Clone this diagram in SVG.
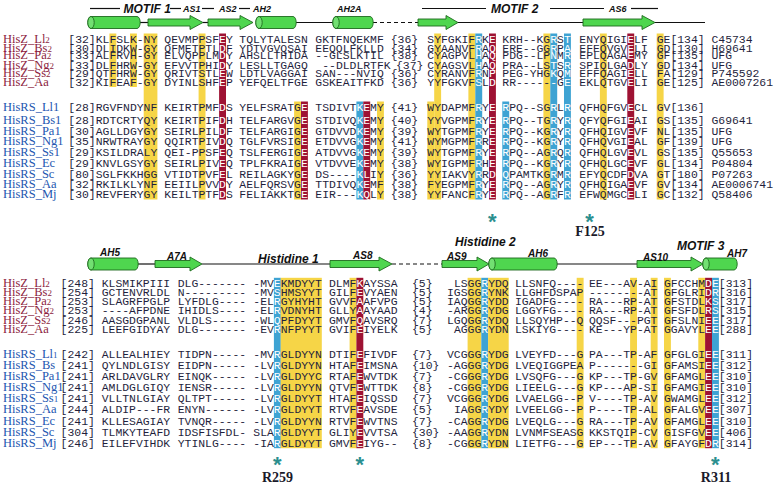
<svg xmlns="http://www.w3.org/2000/svg" width="774" height="488" viewBox="0 0 774 488">
<style>
.s{font-family:"Liberation Mono","Courier New",monospace;font-size:11.42px;fill:#1f1f3d}
.w{fill:#fff}
.lz{font-family:"Liberation Serif","Times New Roman",serif;font-size:12.5px;fill:#8c1d40}
.lr{font-family:"Liberation Serif","Times New Roman",serif;font-size:12.5px;fill:#2356b0}
.sb{font-size:9px}
.y{fill:#f6d547}
.b{fill:#3ea3d3}
.r{fill:#9e1233}
.hd{font-family:"Liberation Sans",Arial,sans-serif;font-weight:bold;font-style:italic;fill:#111}
.m{font-size:12px}
.a{font-size:9px}
.a2{font-size:10px}
.st{font-family:"Liberation Sans",Arial,sans-serif;font-weight:bold;font-size:22px;fill:#2b8f8f;text-anchor:middle}
.res{font-family:"Liberation Serif","Times New Roman",serif;font-weight:bold;font-size:14px;fill:#1a1a2a;text-anchor:middle}
.cyl{fill:#4fd64f;stroke:#1e6a1e;stroke-width:0.9}
.cap{fill:#72e072;stroke:#1e6a1e;stroke-width:0.9}
.ln{stroke:#111;stroke-width:1.2;fill:none}
.dl{stroke:#111;stroke-width:1.2;fill:none;stroke-dasharray:4 3}
</style>
<rect width="774" height="488" fill="#fff"/>

<g id="connectors">
<line class="ln" x1="90" y1="8.5" x2="120" y2="8.5"/>
<line class="ln" x1="170" y1="8.5" x2="181" y2="8.5"/>
<line class="ln" x1="202" y1="8.5" x2="214" y2="8.5"/>
<line class="ln" x1="239" y1="8.5" x2="250" y2="8.5"/>
<line class="ln" x1="422" y1="8.5" x2="486" y2="8.5"/>
<line class="ln" x1="550" y1="8.5" x2="604" y2="8.5"/>
<line class="ln" x1="631" y1="8.5" x2="658" y2="8.5"/>
<line class="ln" x1="140" y1="22.5" x2="148" y2="22.5"/>
<line class="ln" x1="203" y1="22.5" x2="208" y2="22.5"/>
<line class="ln" x1="296" y1="22.5" x2="333" y2="22.5"/>
<line class="dl" x1="373" y1="22.5" x2="418" y2="22.5"/>
<line class="ln" x1="458" y1="22.5" x2="583" y2="22.5"/>
<line class="ln" x1="655" y1="22.5" x2="705" y2="22.5"/>
<line class="ln" x1="138" y1="264" x2="155" y2="264"/>
<line class="ln" x1="202" y1="264" x2="330" y2="264"/>
<line class="dl" x1="392" y1="264" x2="442" y2="264"/>
<line class="ln" x1="557" y1="264" x2="637" y2="264"/>
</g>

<g id="structure">
<path class="cyl" d="M91,16.5H137A3.2,6 0 0 1 137,28.5H91A3.2,6 0 0 1 91,16.5Z"/><ellipse class="cap" cx="91" cy="22.5" rx="3.2" ry="6"/>
<polygon class="cyl" points="148,19 190,19 190,15.5 203,22.5 190,29.5 190,26 148,26"/>
<polygon class="cyl" points="208,19 240,19 240,15.5 253,22.5 240,29.5 240,26 208,26"/>
<path class="cyl" d="M259,16.5H293A3.2,6 0 0 1 293,28.5H259A3.2,6 0 0 1 259,16.5Z"/><ellipse class="cap" cx="259" cy="22.5" rx="3.2" ry="6"/>
<path class="cyl" d="M336,16.5H370A3.2,6 0 0 1 370,28.5H336A3.2,6 0 0 1 336,16.5Z"/><ellipse class="cap" cx="336" cy="22.5" rx="3.2" ry="6"/>
<polygon class="cyl" points="418,19 446,19 446,15.5 458,22.5 446,29.5 446,26 418,26"/>
<polygon class="cyl" points="583,19 642,19 642,15.5 655,22.5 642,29.5 642,26 583,26"/>
<path class="cyl" d="M91,258H135A3.2,6 0 0 1 135,270H91A3.2,6 0 0 1 91,258Z"/><ellipse class="cap" cx="91" cy="264" rx="3.2" ry="6"/>
<polygon class="cyl" points="155,260.5 190,260.5 190,257 202,264 190,271 190,267.5 155,267.5"/>
<polygon class="cyl" points="330,260.5 379,260.5 379,257 392,264 379,271 379,267.5 330,267.5"/>
<polygon class="cyl" points="442,260.5 477,260.5 477,257 489,264 477,271 477,267.5 442,267.5"/>
<path class="cyl" d="M492,258H554A3.2,6 0 0 1 554,270H492A3.2,6 0 0 1 492,258Z"/><ellipse class="cap" cx="492" cy="264" rx="3.2" ry="6"/>
<polygon class="cyl" points="637,260.5 691,260.5 691,257 703,264 691,271 691,267.5 637,267.5"/>
<path class="cyl" d="M706,258H734A3.2,6 0 0 1 734,270H706A3.2,6 0 0 1 706,258Z"/><ellipse class="cap" cx="706" cy="264" rx="3.2" ry="6"/>
</g>

<g id="headers" class="hd">
<text class="m" x="123.5" y="12.8">MOTIF 1</text>
<text class="a" x="183" y="12">AS1</text>
<text class="a" x="219" y="12">AS2</text>
<text class="a" x="253" y="12">AH2</text>
<text class="a" x="337" y="12">AH2A</text>
<text class="m" x="491" y="12.8">MOTIF 2</text>
<text class="a" x="609" y="12">AS6</text>
<text class="a2" x="100" y="255.5">AH5</text>
<text class="a2" x="167" y="259.5">A7A</text>
<text class="m" x="258" y="262.5">Histidine 1</text>
<text class="a2" x="353" y="259">AS8</text>
<text class="a2" x="447" y="260">AS9</text>
<text class="m" x="455" y="245.5">Histidine 2</text>
<text class="a2" x="528" y="256.5">AH6</text>
<text class="a2" x="643" y="260.5">AS10</text>
<text class="m" x="677" y="249.5">MOTIF 3</text>
<text class="a2" x="727" y="256.5">AH7</text>
</g>

<g id="highlights">
<rect class="y" x="109.4" y="33.5" width="6.9" height="53.5"/>
<rect class="y" x="130" y="33.5" width="6.9" height="53.5"/>
<rect class="y" x="143.7" y="33.5" width="13.7" height="166"/>
<rect class="y" x="198.6" y="33.5" width="6.9" height="166"/>
<rect class="r" x="219.1" y="33.5" width="6.9" height="166"/>
<rect class="y" x="294.1" y="101.5" width="6.9" height="98"/>
<rect class="r" x="301" y="101.5" width="6.9" height="98"/>
<rect class="b" x="356.4" y="101.5" width="6.9" height="98"/>
<rect class="r" x="363.3" y="101.5" width="6.9" height="98"/>
<rect class="y" x="377" y="101.5" width="6.9" height="98"/>
<rect class="y" x="427.3" y="101.5" width="6.9" height="98"/>
<rect class="y" x="434.2" y="33.5" width="6.9" height="166"/>
<rect class="y" x="468.4" y="33.5" width="6.9" height="166"/>
<rect class="b" x="475.3" y="33.5" width="6.9" height="166"/>
<rect class="r" x="489" y="33.5" width="6.9" height="166"/>
<rect class="b" x="502.3" y="101.5" width="6.9" height="98"/>
<rect class="y" x="543.4" y="33.5" width="6.9" height="166"/>
<rect class="b" x="550.3" y="33.5" width="6.9" height="166"/>
<rect class="b" x="564" y="33.5" width="6.9" height="166"/>
<rect class="y" x="599.9" y="33.5" width="6.9" height="166"/>
<rect class="r" x="627.3" y="33.5" width="6.9" height="166"/>
<rect class="y" x="656.7" y="33.5" width="6.9" height="166"/>

<rect class="b" x="273.9" y="277.8" width="6.9" height="170.4"/>
<rect class="y" x="280.7" y="277.8" width="41.1" height="170.4"/>
<rect class="y" x="349.6" y="277.8" width="6.9" height="170.4"/>
<rect class="r" x="356.4" y="277.8" width="6.9" height="170.4"/>
<rect class="y" x="467.6" y="277.8" width="13.7" height="170.4"/>
<rect class="b" x="481.3" y="277.8" width="6.9" height="170.4"/>
<rect class="y" x="488.1" y="277.8" width="20.6" height="170.4"/>
<rect class="y" x="576.7" y="277.8" width="6.9" height="170.4"/>
<rect class="y" x="630.1" y="277.8" width="6.9" height="170.4"/>
<rect class="y" x="650.7" y="277.8" width="6.9" height="170.4"/>
<rect class="y" x="664" y="277.8" width="6.9" height="170.4"/>
<rect class="y" x="698.3" y="277.8" width="6.9" height="170.4"/>
<rect class="r" x="705.1" y="277.8" width="6.9" height="170.4"/>
<rect class="b" x="712" y="277.8" width="6.9" height="170.4"/>
</g>

<g id="upper-labels">
<text class="lz" x="3" y="43">HisZ_Ll<tspan class="sb">2</tspan></text>
<text class="lz" x="3" y="51.5">HisZ_Bs<tspan class="sb">2</tspan></text>
<text class="lz" x="3" y="59">HisZ_Pa<tspan class="sb">2</tspan></text>
<text class="lz" x="3" y="68.5">HisZ_Ng<tspan class="sb">2</tspan></text>
<text class="lz" x="3" y="77">HisZ_Ss<tspan class="sb">2</tspan></text>
<text class="lz" x="3" y="86">HisZ_Aa</text>
<text class="lr" x="3" y="111">HisRS_Ll1</text>
<text class="lr" x="3" y="124">HisRS_Bs1</text>
<text class="lr" x="3" y="134.7">HisRS_Pa1</text>
<text class="lr" x="3" y="145.3">HisRS_Ng1</text>
<text class="lr" x="3" y="156">HisRS_Ss1</text>
<text class="lr" x="3" y="167">HisRS_Ec</text>
<text class="lr" x="3" y="177.5">HisRS_Sc</text>
<text class="lr" x="3" y="188">HisRS_Aa</text>
<text class="lr" x="3" y="198">HisRS_Mj</text>
</g>

<g id="upper-seqs" class="s">
<text y="43"><tspan x="68.3">[32]</tspan><tspan x="95.7">KLFSLK-NY</tspan><tspan x="164.3">QEVMPPSF</tspan><tspan class="w">E</tspan><tspan>Y</tspan><tspan x="239.3">TQLYTALESN</tspan><tspan x="315.3">GKTFNQEKMF</tspan><tspan x="390.7">{36}</tspan><tspan x="427.3">SYFGKIF</tspan><tspan class="w">R</tspan><tspan>K</tspan><tspan class="w">E</tspan><tspan x="502.3">KRH--KG</tspan><tspan class="w">R</tspan><tspan>S</tspan><tspan class="w">T</tspan><tspan x="579.3">ENYQIGI</tspan><tspan class="w">E</tspan><tspan>LF</tspan><tspan x="656.7">GE[134] C45734</tspan></text>
<text y="51.5"><tspan x="68.3">[30]</tspan><tspan x="95.7">DLIDKW-GY</tspan><tspan x="164.3">QFMETPTL</tspan><tspan class="w">D</tspan><tspan>F</tspan><tspan x="239.3">YDTVGVQSAI</tspan><tspan x="315.3">EEQQLFKLLD</tspan><tspan x="390.7">{34}</tspan><tspan x="427.3">GYAANVF</tspan><tspan class="w">R</tspan><tspan>A</tspan><tspan class="w">Q</tspan><tspan x="502.3">ERE--GG</tspan><tspan class="w">R</tspan><tspan>P</tspan><tspan class="w">A</tspan><tspan x="579.3">EFEQVGV</tspan><tspan class="w">E</tspan><tspan>LI</tspan><tspan x="656.7">GD[130] H69641</tspan></text>
<text y="59"><tspan x="68.3">[33]</tspan><tspan x="95.7">ALFRVH-GY</tspan><tspan x="164.3">ELVQPPLM</tspan><tspan class="w">D</tspan><tspan>Y</tspan><tspan x="239.3">AHSLLTHIDA</tspan><tspan x="315.3">--GLSLKTIL</tspan><tspan x="390.7">{38}</tspan><tspan x="427.3">CYAGPVL</tspan><tspan class="w">H</tspan><tspan>A</tspan><tspan class="w">Q</tspan><tspan x="502.3">PDG--LP</tspan><tspan class="w">N</tspan><tspan>M</tspan><tspan class="w">R</tspan><tspan x="579.3">EPLQAGA</tspan><tspan class="w">E</tspan><tspan>MY</tspan><tspan x="656.7">GF[135] UFG</tspan></text>
<text y="68.5"><tspan x="68.3">[33]</tspan><tspan x="95.7">DLFHRW-GY</tspan><tspan x="164.3">EFVVTPHI</tspan><tspan class="w">D</tspan><tspan>Y</tspan><tspan x="239.3">LESLLTGAGQ</tspan><tspan x="322.2">--DLDLRTFK</tspan><tspan x="396">{37}</tspan><tspan x="427.3">CYAGSVL</tspan><tspan class="w">H</tspan><tspan>A</tspan><tspan class="w">Q</tspan><tspan x="502.3">PRA--LS</tspan><tspan class="w">T</tspan><tspan>S</tspan><tspan class="w">R</tspan><tspan x="579.3">SPIQLGA</tspan><tspan class="w">D</tspan><tspan>LY</tspan><tspan x="656.7">GD[134] UFG</tspan></text>
<text y="77"><tspan x="68.3">[29]</tspan><tspan x="95.7">QTFHRW-GY</tspan><tspan x="164.3">QRIVTSTL</tspan><tspan class="w">E</tspan><tspan>W</tspan><tspan x="239.3">LDTLVAGGAI</tspan><tspan x="315.3">SAN---NVIQ</tspan><tspan x="390.7">{36}</tspan><tspan x="427.3">CYRANVF</tspan><tspan class="w">R</tspan><tspan>N</tspan><tspan class="w">P</tspan><tspan x="502.3">PEG-YHG</tspan><tspan class="w">K</tspan><tspan>Q</tspan><tspan class="w">M</tspan><tspan x="579.3">EFFQAGI</tspan><tspan class="w">E</tspan><tspan>LL</tspan><tspan x="656.7">FA[129] P745592</tspan></text>
<text y="86"><tspan x="68.3">[32]</tspan><tspan x="95.7">KIFEAF-GY</tspan><tspan x="164.3">DYINLSHF</tspan><tspan class="w">E</tspan><tspan>P</tspan><tspan x="239.3">YEFQELTFGE</tspan><tspan x="315.3">GSKEAITFKD</tspan><tspan x="390.7">{36}</tspan><tspan x="427.3">YYFGKVF</tspan><tspan class="w">S</tspan><tspan>L</tspan><tspan class="w">D</tspan><tspan x="502.3">RR-----</tspan><tspan class="w">-</tspan><tspan>G</tspan><tspan class="w">E</tspan><tspan x="579.3">EKLQTGV</tspan><tspan class="w">E</tspan><tspan>LI</tspan><tspan x="656.7">GE[125] AE0007261</tspan></text>
<text y="111"><tspan x="68.3">[28]</tspan><tspan x="95.7">RGVFNDYNF</tspan><tspan x="164.3">KEIRTPMF</tspan><tspan class="w">D</tspan><tspan>S</tspan><tspan x="239.3">YELFSRATG</tspan><tspan class="w">E</tspan><tspan x="315.3">TSDIVT</tspan><tspan class="w">KE</tspan><tspan>MY</tspan><tspan x="390.7">{41}</tspan><tspan x="427.3">WYDAPMF</tspan><tspan class="w">R</tspan><tspan>Y</tspan><tspan class="w">E</tspan><tspan x="502.3" class="w">R</tspan><tspan>PQ--SG</tspan><tspan class="w">R</tspan><tspan>L</tspan><tspan class="w">R</tspan><tspan x="579.3">QFHQFGV</tspan><tspan class="w">E</tspan><tspan>CL</tspan><tspan x="656.7">GV[136]</tspan></text>
<text y="124"><tspan x="68.3">[28]</tspan><tspan x="95.7">RDTCRTYQY</tspan><tspan x="164.3">KEIRTPIF</tspan><tspan class="w">D</tspan><tspan>H</tspan><tspan x="239.3">TELFARGVG</tspan><tspan class="w">E</tspan><tspan x="315.3">STDIVQ</tspan><tspan class="w">KE</tspan><tspan>MY</tspan><tspan x="390.7">{40}</tspan><tspan x="427.3">YYVGPMF</tspan><tspan class="w">R</tspan><tspan>Y</tspan><tspan class="w">E</tspan><tspan x="502.3" class="w">R</tspan><tspan>PQ--TG</tspan><tspan class="w">R</tspan><tspan>Y</tspan><tspan class="w">R</tspan><tspan x="579.3">QFYQFGI</tspan><tspan class="w">E</tspan><tspan>AI</tspan><tspan x="656.7">GS[135] G69641</tspan></text>
<text y="134.7"><tspan x="68.3">[30]</tspan><tspan x="95.7">AGLLDGYGY</tspan><tspan x="164.3">SEIRLPIL</tspan><tspan class="w">D</tspan><tspan>F</tspan><tspan x="239.3">TELFARGIG</tspan><tspan class="w">E</tspan><tspan x="315.3">GTDVVD</tspan><tspan class="w">KE</tspan><tspan>MY</tspan><tspan x="390.7">{39}</tspan><tspan x="427.3">WYTGPMF</tspan><tspan class="w">R</tspan><tspan>Y</tspan><tspan class="w">E</tspan><tspan x="502.3" class="w">R</tspan><tspan>PQ--KG</tspan><tspan class="w">R</tspan><tspan>Y</tspan><tspan class="w">R</tspan><tspan x="579.3">QFHQIGV</tspan><tspan class="w">E</tspan><tspan>VF</tspan><tspan x="656.7">NL[135] UFG</tspan></text>
<text y="145.3"><tspan x="68.3">[35]</tspan><tspan x="95.7">NRWTRAYGY</tspan><tspan x="164.3">QQIRTPIV</tspan><tspan class="w">D</tspan><tspan>Q</tspan><tspan x="239.3">TGLFVRSIG</tspan><tspan class="w">E</tspan><tspan x="315.3">ETDVVG</tspan><tspan class="w">KE</tspan><tspan>MY</tspan><tspan x="390.7">{41}</tspan><tspan x="427.3">WYMGPMF</tspan><tspan class="w">R</tspan><tspan>R</tspan><tspan class="w">E</tspan><tspan x="502.3" class="w">R</tspan><tspan>PQ--KG</tspan><tspan class="w">R</tspan><tspan>Y</tspan><tspan class="w">R</tspan><tspan x="579.3">QFHQVGI</tspan><tspan class="w">E</tspan><tspan>AL</tspan><tspan x="656.7">GF[139] UFG</tspan></text>
<text y="156"><tspan x="68.3">[29]</tspan><tspan x="95.7">KSILDRALY</tspan><tspan x="164.3">QEI-PPSF</tspan><tspan class="w">E</tspan><tspan>Q</tspan><tspan x="239.3">TSLFERGIG</tspan><tspan class="w">E</tspan><tspan x="315.3">ATDVVG</tspan><tspan class="w">KE</tspan><tspan>MY</tspan><tspan x="390.7">{39}</tspan><tspan x="427.3">WYTGPMF</tspan><tspan class="w">R</tspan><tspan>Y</tspan><tspan class="w">E</tspan><tspan x="502.3" class="w">R</tspan><tspan>PQ--AG</tspan><tspan class="w">R</tspan><tspan>Q</tspan><tspan class="w">R</tspan><tspan x="579.3">QFHQLGV</tspan><tspan class="w">E</tspan><tspan>VL</tspan><tspan x="656.7">GS[135] Q55653</tspan></text>
<text y="167"><tspan x="68.3">[29]</tspan><tspan x="95.7">KNVLGSYGY</tspan><tspan x="164.3">SEIRLPIV</tspan><tspan class="w">E</tspan><tspan>Q</tspan><tspan x="239.3">TPLFKRAIG</tspan><tspan class="w">E</tspan><tspan x="315.3">VTDVVE</tspan><tspan class="w">KE</tspan><tspan>MY</tspan><tspan x="390.7">{38}</tspan><tspan x="427.3">WYIGPMF</tspan><tspan class="w">R</tspan><tspan>H</tspan><tspan class="w">E</tspan><tspan x="502.3" class="w">R</tspan><tspan>PQ--KG</tspan><tspan class="w">R</tspan><tspan>Y</tspan><tspan class="w">R</tspan><tspan x="579.3">QFHQLGC</tspan><tspan class="w">E</tspan><tspan>VF</tspan><tspan x="656.7">GL[134] P04804</tspan></text>
<text y="177.5"><tspan x="68.3">[80]</tspan><tspan x="95.7">SGLFKKHGG</tspan><tspan x="164.3">VTIDTPVF</tspan><tspan class="w">E</tspan><tspan>L</tspan><tspan x="239.3">REILAGKYG</tspan><tspan class="w">E</tspan><tspan x="315.3">DS----</tspan><tspan class="w">KL</tspan><tspan>IY</tspan><tspan x="390.7">{36}</tspan><tspan x="427.3">YYIAKVY</tspan><tspan class="w">R</tspan><tspan>R</tspan><tspan class="w">D</tspan><tspan x="502.3" class="w">Q</tspan><tspan>PAMTKG</tspan><tspan class="w">R</tspan><tspan>M</tspan><tspan class="w">R</tspan><tspan x="579.3">EFYQCDF</tspan><tspan class="w">D</tspan><tspan>VA</tspan><tspan x="656.7">GT[180] P07263</tspan></text>
<text y="188"><tspan x="68.3">[32]</tspan><tspan x="95.7">RKILKLYNF</tspan><tspan x="164.3">EEIILPVV</tspan><tspan class="w">D</tspan><tspan>Y</tspan><tspan x="239.3">AELFQRSVG</tspan><tspan class="w">E</tspan><tspan x="315.3">TTDIVQ</tspan><tspan class="w">KE</tspan><tspan>MF</tspan><tspan x="390.7">{38}</tspan><tspan x="427.3">FYEGPMF</tspan><tspan class="w">R</tspan><tspan>Y</tspan><tspan class="w">E</tspan><tspan x="502.3" class="w">R</tspan><tspan>PQ--AG</tspan><tspan class="w">R</tspan><tspan>Y</tspan><tspan class="w">R</tspan><tspan x="579.3">QFHQIGA</tspan><tspan class="w">E</tspan><tspan>VF</tspan><tspan x="656.7">GV[134] AE0006741</tspan></text>
<text y="198"><tspan x="68.3">[30]</tspan><tspan x="95.7">REVFERYGY</tspan><tspan x="164.3">KEILTPTF</tspan><tspan class="w">D</tspan><tspan>S</tspan><tspan x="239.3">FELIAKKTG</tspan><tspan class="w">E</tspan><tspan x="315.3">EIR---</tspan><tspan class="w">KQ</tspan><tspan>LY</tspan><tspan x="390.7">{38}</tspan><tspan x="427.3">YYFANCF</tspan><tspan class="w">R</tspan><tspan>Y</tspan><tspan class="w">E</tspan><tspan x="502.3" class="w">R</tspan><tspan>PQ--AG</tspan><tspan class="w">R</tspan><tspan>F</tspan><tspan class="w">R</tspan><tspan x="579.3">EFWQMGC</tspan><tspan class="w">E</tspan><tspan>LI</tspan><tspan x="656.7">GC[132] Q58406</tspan></text>
</g>

<g id="upper-marks">
<text class="st" x="492.4" y="228.6">*</text>
<text class="st" x="589.6" y="228.6">*</text>
<text class="res" x="590" y="235.5">F125</text>
</g>

<g id="lower-labels">
<text class="lz" x="3" y="287.3">HisZ_Ll<tspan class="sb">2</tspan></text>
<text class="lz" x="3" y="296.3">HisZ_Bs<tspan class="sb">2</tspan></text>
<text class="lz" x="3" y="305">HisZ_Pa<tspan class="sb">2</tspan></text>
<text class="lz" x="3" y="314">HisZ_Ng<tspan class="sb">2</tspan></text>
<text class="lz" x="3" y="324">HisZ_Ss<tspan class="sb">2</tspan></text>
<text class="lz" x="3" y="333.3">HisZ_Aa</text>
<text class="lr" x="3" y="357.5">HisRS_Ll<tspan class="sb">1</tspan></text>
<text class="lr" x="3" y="369">HisRS_Bs</text>
<text class="lr" x="3" y="380.1">HisRS_Pa1</text>
<text class="lr" x="3" y="391.2">HisRS_Ng1</text>
<text class="lr" x="3" y="402.3">HisRS_Ss<tspan class="sb">1</tspan></text>
<text class="lr" x="3" y="413.4">HisRS_Aa</text>
<text class="lr" x="3" y="424.5">HisRS_Ec</text>
<text class="lr" x="3" y="435.6">HisRS_Sc</text>
<text class="lr" x="3" y="446.7">HisRS_Mj</text>
</g>

<g id="lower-seqs" class="s">
<text y="287.3"><tspan x="60.6">[248]</tspan><tspan x="101.7">KLSMIKPIII</tspan><tspan x="177.7">DLG-------</tspan><tspan x="253.3">-MV</tspan><tspan class="w">E</tspan><tspan>KMDYYT</tspan><tspan x="329">DLMF</tspan><tspan class="w">K</tspan><tspan>AYSSA</tspan><tspan x="412">{5}</tspan><tspan x="453.9">LSGG</tspan><tspan class="w">R</tspan><tspan>YDQ</tspan><tspan x="515">LLSNFQ----</tspan><tspan x="589">EE---AV-AI</tspan><tspan x="664">GFCCHM</tspan><tspan class="w">DE</tspan><tspan>[313]</tspan></text>
<text y="296.3"><tspan x="60.6">[254]</tspan><tspan x="101.7">GCTENVRLDL</tspan><tspan x="177.7">N---------</tspan><tspan x="253.3">-MV</tspan><tspan class="w">S</tspan><tspan>HMSYYT</tspan><tspan x="329">GILF</tspan><tspan class="w">E</tspan><tspan>VYAEN</tspan><tspan x="412">{5}</tspan><tspan x="447">IGSGG</tspan><tspan class="w">R</tspan><tspan>YNK</tspan><tspan x="515">LLGHFDSPAP</tspan><tspan x="589">--------AT</tspan><tspan x="664">GFGLRI</tspan><tspan class="w">DR</tspan><tspan>[316]</tspan></text>
<text y="305"><tspan x="60.6">[253]</tspan><tspan x="101.7">SLAGRFPGLP</tspan><tspan x="177.7">LYFDLG----</tspan><tspan x="253.3">-EL</tspan><tspan class="w">R</tspan><tspan>GYHYHT</tspan><tspan x="329">GVVF</tspan><tspan class="w">A</tspan><tspan>AFVPG</tspan><tspan x="412">{5}</tspan><tspan x="447">IAQGG</tspan><tspan class="w">R</tspan><tspan>YDD</tspan><tspan x="515">IGADFG----</tspan><tspan x="589">RA---RP-AT</tspan><tspan x="664">GFSTDL</tspan><tspan class="w">KS</tspan><tspan>[317]</tspan></text>
<text y="314"><tspan x="60.6">[253]</tspan><tspan x="101.7">----AFPDNE</tspan><tspan x="177.7">IHIDLS----</tspan><tspan x="253.3">-EL</tspan><tspan class="w">R</tspan><tspan>VDNYHT</tspan><tspan x="329">GLLY</tspan><tspan class="w">A</tspan><tspan>AYAAD</tspan><tspan x="412">{4}</tspan><tspan x="447">-ARGG</tspan><tspan class="w">R</tspan><tspan>YDG</tspan><tspan x="515">LGGYFG----</tspan><tspan x="589">RA---RP-AT</tspan><tspan x="664">GFSFDL</tspan><tspan class="w">RS</tspan><tspan>[315]</tspan></text>
<text y="324"><tspan x="60.6">[246]</tspan><tspan x="101.7">AASGDGPANL</tspan><tspan x="177.7">VLDLS-----</tspan><tspan x="253.3">-WL</tspan><tspan class="w">Q</tspan><tspan>PFDYYT</tspan><tspan x="329">GMVF</tspan><tspan class="w">Q</tspan><tspan>AVSRQ</tspan><tspan x="412">{7}</tspan><tspan x="447">LGQGG</tspan><tspan class="w">R</tspan><tspan>YDQ</tspan><tspan x="515">LLSQYHP--Q</tspan><tspan x="589">QQSF---PGT</tspan><tspan x="664">GFSLNI</tspan><tspan class="w">EE</tspan><tspan>[317]</tspan></text>
<text y="333.3"><tspan x="60.6">[225]</tspan><tspan x="101.7">LEEFGIDYAY</tspan><tspan x="177.7">DLG-------</tspan><tspan x="253.3">-EV</tspan><tspan class="w">R</tspan><tspan>NFPYYT</tspan><tspan x="329">GVIF</tspan><tspan class="w">E</tspan><tspan>IYELK</tspan><tspan x="412">{5}</tspan><tspan x="453.9">AGGG</tspan><tspan class="w">R</tspan><tspan>YDN</tspan><tspan x="515">LSKIYG----</tspan><tspan x="589">KE---YP-AT</tspan><tspan x="664">GGAVYL</tspan><tspan class="w">EE</tspan><tspan>[288]</tspan></text>
<text y="357.5"><tspan x="60.6">[242]</tspan><tspan x="101.7">ALLEALHIEY</tspan><tspan x="177.7">TIDPN-----</tspan><tspan x="253.3">-MV</tspan><tspan class="w">R</tspan><tspan>GLDYYN</tspan><tspan x="329">DTIF</tspan><tspan class="w">E</tspan><tspan>FIVDF</tspan><tspan x="412">{7}</tspan><tspan x="447">VCGGG</tspan><tspan class="w">R</tspan><tspan>YDG</tspan><tspan x="515">LVEYFD---G</tspan><tspan x="589">PA---TP-AF</tspan><tspan x="664">GFGLGI</tspan><tspan class="w">EE</tspan><tspan>[311]</tspan></text>
<text y="369"><tspan x="60.6">[241]</tspan><tspan x="101.7">QYLNDLGISY</tspan><tspan x="177.7">EIDPN-----</tspan><tspan x="253.3">-LV</tspan><tspan class="w">R</tspan><tspan>GLDYYN</tspan><tspan x="329">HTAF</tspan><tspan class="w">E</tspan><tspan>IMSNA</tspan><tspan x="412">{10}</tspan><tspan x="447">-AGGG</tspan><tspan class="w">R</tspan><tspan>YDG</tspan><tspan x="515">LVEQIGGPEA</tspan><tspan x="589">P-------GI</tspan><tspan x="664">GFAMSI</tspan><tspan class="w">EE</tspan><tspan>[312]</tspan></text>
<text y="380.1"><tspan x="60.6">[241]</tspan><tspan x="101.7">ARLDAVGLRY</tspan><tspan x="177.7">EINQK-----</tspan><tspan x="253.3">-LV</tspan><tspan class="w">R</tspan><tspan>GLDYYC</tspan><tspan x="329">RTAF</tspan><tspan class="w">E</tspan><tspan>WVTDK</tspan><tspan x="412">{7}</tspan><tspan x="447">-CGGG</tspan><tspan class="w">R</tspan><tspan>YDG</tspan><tspan x="515">LVSQFG---G</tspan><tspan x="589">KP---TP-GV</tspan><tspan x="664">GFAMGL</tspan><tspan class="w">EE</tspan><tspan>[310]</tspan></text>
<text y="391.2"><tspan x="60.6">[241]</tspan><tspan x="101.7">AMLDGLGIQY</tspan><tspan x="177.7">IENSR-----</tspan><tspan x="253.3">-LV</tspan><tspan class="w">R</tspan><tspan>GLDYYN</tspan><tspan x="329">QTVF</tspan><tspan class="w">E</tspan><tspan>WTTDK</tspan><tspan x="412">{8}</tspan><tspan x="447">-CGGG</tspan><tspan class="w">R</tspan><tspan>YDG</tspan><tspan x="515">LIEELG---G</tspan><tspan x="589">KP---AP-SI</tspan><tspan x="664">GFAMGI</tspan><tspan class="w">EE</tspan><tspan>[310]</tspan></text>
<text y="402.3"><tspan x="60.6">[241]</tspan><tspan x="101.7">VLLTNLGIAY</tspan><tspan x="177.7">QLTPT-----</tspan><tspan x="253.3">-LV</tspan><tspan class="w">R</tspan><tspan>GLDYYT</tspan><tspan x="329">HTAF</tspan><tspan class="w">E</tspan><tspan>IQSSD</tspan><tspan x="412">{7}</tspan><tspan x="447">VCGGG</tspan><tspan class="w">R</tspan><tspan>YDG</tspan><tspan x="515">LVAELGG--P</tspan><tspan x="589">V----TP-AV</tspan><tspan x="664">GWAMGL</tspan><tspan class="w">EE</tspan><tspan>[312]</tspan></text>
<text y="413.4"><tspan x="60.6">[244]</tspan><tspan x="101.7">ALDIP---FR</tspan><tspan x="177.7">ENYN------</tspan><tspan x="253.3">-LV</tspan><tspan class="w">R</tspan><tspan>GLDYYT</tspan><tspan x="329">RTVF</tspan><tspan class="w">E</tspan><tspan>AVSDE</tspan><tspan x="412">{5}</tspan><tspan x="453.9">IAGG</tspan><tspan class="w">R</tspan><tspan>YDY</tspan><tspan x="515">LVEELGG--P</tspan><tspan x="589">P----TP-AL</tspan><tspan x="664">GFALGV</tspan><tspan class="w">EE</tspan><tspan>[307]</tspan></text>
<text y="424.5"><tspan x="60.6">[241]</tspan><tspan x="101.7">KLLESAGIAY</tspan><tspan x="177.7">TVNQR-----</tspan><tspan x="253.3">-LV</tspan><tspan class="w">R</tspan><tspan>GLDYYN</tspan><tspan x="329">RTVF</tspan><tspan class="w">E</tspan><tspan>WVTNS</tspan><tspan x="412">{7}</tspan><tspan x="447">-CAGG</tspan><tspan class="w">R</tspan><tspan>YDG</tspan><tspan x="515">LVEQLG---G</tspan><tspan x="589">RA---TP-AV</tspan><tspan x="664">GFAMGL</tspan><tspan class="w">EE</tspan><tspan>[310]</tspan></text>
<text y="435.6"><tspan x="60.6">[304]</tspan><tspan x="101.7">TLMKYTEAFD</tspan><tspan x="177.7">IDSFISFDL-</tspan><tspan x="253.3">SLA</tspan><tspan class="w">R</tspan><tspan>GLDYYT</tspan><tspan x="329">GLIY</tspan><tspan class="w">E</tspan><tspan>VVTSA</tspan><tspan x="412">{30}</tspan><tspan x="447">-AAGG</tspan><tspan class="w">R</tspan><tspan>YDN</tspan><tspan x="515">LVNMFSEASG</tspan><tspan x="589">KKSTQIP-CV</tspan><tspan x="664">GISFGV</tspan><tspan class="w">EE</tspan><tspan>[406]</tspan></text>
<text y="446.7"><tspan x="60.6">[246]</tspan><tspan x="101.7">EILEFVIHDK</tspan><tspan x="177.7">YTINLG----</tspan><tspan x="253.3">-IA</tspan><tspan class="w">R</tspan><tspan>GLDYYT</tspan><tspan x="329">GMVF</tspan><tspan class="w">E</tspan><tspan>IYG--</tspan><tspan x="412">{8}</tspan><tspan x="447">-CGGG</tspan><tspan class="w">R</tspan><tspan>YDN</tspan><tspan x="515">LIETFG---G</tspan><tspan x="589">EP---TP-AV</tspan><tspan x="664">GFAYGF</tspan><tspan class="w">DR</tspan><tspan>[314]</tspan></text>
</g>

<g id="lower-marks">
<text class="st" x="277.3" y="472.4">*</text>
<text class="st" x="359.8" y="472.4">*</text>
<text class="st" x="715.4" y="472.4">*</text>
<text class="res" x="277.5" y="482">R259</text>
<text class="res" x="716" y="482">R311</text>
</g>
</svg>
